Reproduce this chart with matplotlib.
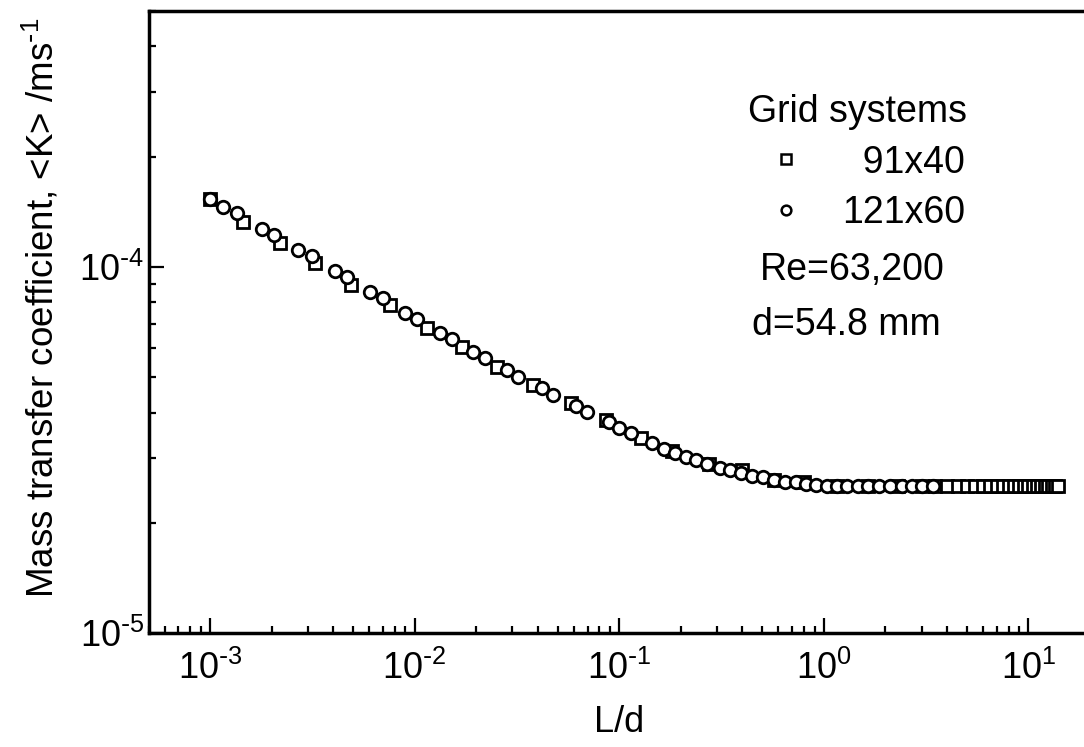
import matplotlib
matplotlib.use("Agg")
import matplotlib.pyplot as plt
from matplotlib.lines import Line2D
from matplotlib.ticker import FuncFormatter
import numpy as np

plt.rcParams["font.family"] = ["Liberation Sans", "DejaVu Sans"]
plt.rcParams["mathtext.default"] = "regular"

# grid 121x60 (circles)
ld_fine = [0.001, 0.001156, 0.001355, 0.001795, 0.002053, 0.002686, 0.003147,
           0.004074, 0.004661, 0.00603, 0.006978, 0.008929, 0.01022, 0.01324,
           0.01515, 0.01918, 0.02194, 0.02841, 0.03216, 0.04209, 0.04762,
           0.06166, 0.06982, 0.08933, 0.1, 0.1145, 0.1449, 0.166, 0.1876,
           0.2123, 0.2376, 0.2688, 0.3111, 0.3479, 0.3936, 0.4454, 0.5036,
           0.5699, 0.6447, 0.7298, 0.8166, 0.914, 1.03, 1.16, 1.3, 1.47, 1.65,
           1.86, 2.1, 2.4, 2.7, 3.0, 3.4]
k_fine = [1.536e-4, 1.460e-4, 1.406e-4, 1.271e-4, 1.224e-4, 1.113e-4, 1.072e-4,
          9.75e-5, 9.39e-5, 8.54e-5, 8.23e-5, 7.48e-5, 7.21e-5, 6.60e-5,
          6.35e-5, 5.85e-5, 5.63e-5, 5.22e-5, 5.00e-5, 4.66e-5, 4.46e-5,
          4.16e-5, 4.01e-5, 3.76e-5, 3.62e-5, 3.51e-5, 3.30e-5, 3.19e-5, 3.11e-5,
          3.03e-5, 2.96e-5, 2.90e-5, 2.83e-5, 2.78e-5, 2.74e-5, 2.69e-5, 2.66e-5,
          2.62e-5, 2.59e-5, 2.58e-5, 2.56e-5, 2.53e-5, 2.52e-5, 2.52e-5, 2.52e-5,
          2.52e-5, 2.52e-5, 2.52e-5, 2.52e-5, 2.52e-5, 2.52e-5, 2.52e-5, 2.52e-5]

# grid 91x40 (squares)
ld_coarse = [0.001, 0.001449, 0.002193, 0.00325, 0.004874, 0.007551, 0.01146,
             0.01695, 0.02512, 0.03767, 0.05834, 0.0865, 0.1281, 0.1815, 0.275,
             0.3981, 0.5699, 0.798, 1.16, 1.65, 2.3, 3.0, 3.5, 4.0, 4.5, 5.0,
             5.5, 6.0, 6.5, 7.0, 7.5, 8.0, 8.5, 9.0, 9.5, 10.0, 10.5, 11.0,
             11.5, 12.0, 12.5, 13.0, 13.5, 14.0]
k_coarse = [1.536e-4, 1.327e-4, 1.163e-4, 1.026e-4, 8.93e-5, 7.87e-5, 6.81e-5,
            6.04e-5, 5.32e-5, 4.75e-5, 4.24e-5, 3.81e-5, 3.40e-5, 3.15e-5,
            2.90e-5, 2.78e-5, 2.62e-5, 2.58e-5, 2.52e-5, 2.52e-5, 2.52e-5,
            2.52e-5, 2.52e-5, 2.52e-5, 2.52e-5, 2.52e-5, 2.52e-5, 2.52e-5,
            2.52e-5, 2.52e-5, 2.52e-5, 2.52e-5, 2.52e-5, 2.52e-5, 2.52e-5,
            2.52e-5, 2.52e-5, 2.52e-5, 2.52e-5, 2.52e-5, 2.52e-5, 2.52e-5,
            2.52e-5, 2.52e-5]


def decade_label(value, pos):
    # 10^n with a plain hyphen in the exponent
    exp = int(round(np.log10(value)))
    sign = r"\text{-}" if exp < 0 else ""
    return rf"$10^{{{sign}{abs(exp)}}}$"


fig = plt.figure(figsize=(10.84, 7.47), dpi=100)
ax = fig.add_axes([0.137, 0.1526, 0.8686, 0.8327])

ax.plot(ld_coarse, k_coarse, linestyle="none", marker="s", ms=8,
        mfc="white", mec="black", mew=2.0)
ax.plot(ld_fine, k_fine, linestyle="none", marker="o", ms=9,
        mfc="white", mec="black", mew=2.0)

ax.set_xscale("log")
ax.set_yscale("log")
ax.set_xlim(5e-4, 20)
ax.set_ylim(1e-5, 5e-4)
ax.xaxis.set_major_formatter(FuncFormatter(decade_label))
ax.yaxis.set_major_formatter(FuncFormatter(decade_label))

for side in ("left", "bottom", "top"):
    ax.spines[side].set_linewidth(2.5)
ax.spines["right"].set_visible(False)
ax.tick_params(which="both", direction="in", top=False, right=False,
               width=1.6, labelsize=26)
ax.tick_params(which="major", length=11)
ax.tick_params(which="minor", length=5)
ax.tick_params(axis="x", which="major", pad=13)
ax.tick_params(axis="y", which="major", pad=3)

ax.set_xlabel("L/d", fontsize=26, labelpad=13)
ax.set_ylabel("Mass transfer coefficient, <K> /ms$^{\\text{-}1}$", fontsize=26.5)
ax.yaxis.set_label_coords(-0.092, 0.522)

handles = [
    Line2D([], [], linestyle="none", marker="s", ms=7, mfc="white",
           mec="black", mew=1.8),
    Line2D([], [], linestyle="none", marker="o", ms=7, mfc="white",
           mec="black", mew=1.8),
]
leg = ax.legend(handles, ["  91x40", "121x60"], title="Grid systems",
                loc="upper left", bbox_to_anchor=(0.637, 0.866),
                frameon=False, fontsize=27, title_fontsize=27,
                handlelength=2.0, handletextpad=0.5, labelspacing=0.38,
                borderpad=0, borderaxespad=0)
leg._legend_box.align = "left"

ax.text(0.6495, 0.5836, "Re=63,200", transform=ax.transAxes, fontsize=27,
        va="center")
ax.text(0.641, 0.495, "d=54.8 mm", transform=ax.transAxes, fontsize=27,
        va="center")

fig.savefig("out.png", dpi=100)
